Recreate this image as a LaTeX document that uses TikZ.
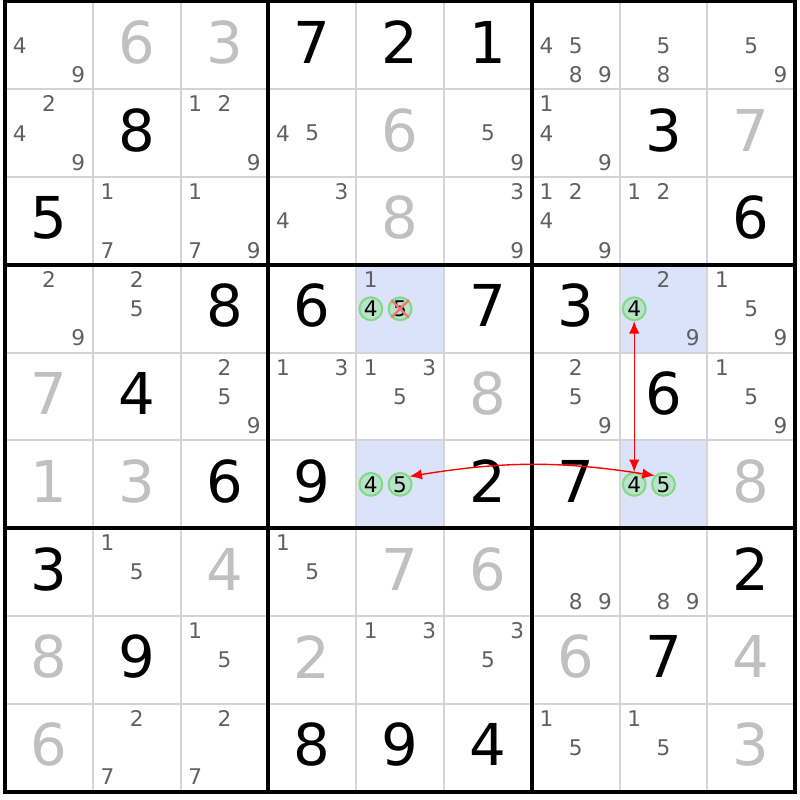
\documentclass[tikz,border=0pt]{standalone}
\usepackage{fontspec}
\setmainfont{DejaVu Sans}
\usetikzlibrary{arrows.meta}

\def\bigdigit{\fontsize{18.7}{20}\selectfont}
\def\smalldigit{\fontsize{7}{8}\selectfont}
\definecolor{solved gray}{RGB}{192,192,192}
\definecolor{cand gray}{RGB}{96,96,96}
\definecolor{grid gray}{RGB}{212,212,212}
\definecolor{cell area}{RGB}{218,227,250}
\definecolor{mark area}{RGB}{184,226,204}
\definecolor{mark edge}{RGB}{128,218,128}
\definecolor{strike red}{RGB}{240,120,120}
\tikzset{
  given/.style={font=\bigdigit, text=black, inner sep=0pt, yshift=0.035cm},
  solved/.style={font=\bigdigit, text=solved gray, inner sep=0pt, yshift=0.035cm},
  cand/.style={font=\smalldigit, text=cand gray, inner sep=0pt},
  marked/.style={circle, draw=mark edge, fill=mark area, line width=0.65pt,
    minimum size=0.26cm, inner sep=0pt, font=\smalldigit, text=black}
  }
\tikzstyle{thin} = [draw=grid gray, line width=0.65pt]
\tikzstyle{thick} = [draw=black, line width=1.3pt]
\tikzstyle{link} = [draw=red, line width=0.45pt,
  {Latex[length=4pt,width=3.4pt]}-{Latex[length=4pt,width=3.4pt]}]
\tikzstyle{strike} = [draw=strike red, line width=0.75pt]

\begin{document}
\begin{tikzpicture}
   \useasboundingbox (-0.057,0.017) rectangle (9.055,-9.094);

   % highlighted cells
   \foreach \r/\c in {4/5,6/5,4/8,6/8}
      \fill[cell area] (\c-1,-\r+1) rectangle (\c,-\r);

   % grid
   \foreach \i in {1,2,4,5,7,8} {
      \path[thin] (\i,0) -- (\i,-9);
      \path[thin] (0,-\i) -- (9,-\i);
   }
   \foreach \i in {3,6} {
      \path[thick] (\i,0) -- (\i,-9);
      \path[thick] (0,-\i) -- (9,-\i);
   }
   \path[thick, line cap=rect] (0,0) rectangle (9,-9);

   % givens
   \foreach \r/\c/\d in {1/4/7, 1/5/2, 1/6/1, 2/2/8, 2/8/3, 3/1/5, 3/9/6,
      4/3/8, 4/4/6, 4/6/7, 4/7/3, 5/2/4, 5/8/6, 6/3/6, 6/4/9, 6/6/2, 6/7/7,
      7/1/3, 7/9/2, 8/2/9, 8/8/7, 9/4/8, 9/5/9, 9/6/4}
      \node[given] (v\r\c) at (\c-0.5,-\r+0.5) {\d};

   % solved cells
   \foreach \r/\c/\d in {1/2/6, 1/3/3, 2/5/6, 2/9/7, 3/5/8, 5/1/7, 5/6/8,
      6/1/1, 6/2/3, 6/9/8, 7/3/4, 7/5/7, 7/6/6, 8/1/8, 8/4/2, 8/7/6, 8/9/4,
      9/1/6, 9/9/3}
      \node[solved] (v\r\c) at (\c-0.5,-\r+0.5) {\d};

   % pencil marks
   \foreach \r/\c/\l in {1/1/{4,9}, 1/7/{4,5,8,9}, 1/8/{5,8}, 1/9/{5,9},
      2/1/{2,4,9}, 2/3/{1,2,9}, 2/4/{4,5}, 2/6/{5,9}, 2/7/{1,4,9},
      3/2/{1,7}, 3/3/{1,7,9}, 3/4/{3,4}, 3/6/{3,9}, 3/7/{1,2,4,9}, 3/8/{1,2},
      4/1/{2,9}, 4/2/{2,5}, 4/5/{1}, 4/8/{2,9}, 4/9/{1,5,9},
      5/3/{2,5,9}, 5/4/{1,3}, 5/5/{1,3,5}, 5/7/{2,5,9}, 5/9/{1,5,9},
      7/2/{1,5}, 7/4/{1,5}, 7/7/{8,9}, 7/8/{8,9},
      8/3/{1,5}, 8/5/{1,3}, 8/6/{3,5},
      9/2/{2,7}, 9/3/{2,7}, 9/7/{1,5}, 9/8/{1,5}}
      \foreach \d in \l {
         \pgfmathsetmacro\kx{\c-1+(mod(\d-1,3)+0.5)/3}
         \pgfmathsetmacro\ky{-(\r-1)-(floor((\d-1)/3)+0.5)/3}
         \node[cand] (k\r\c\d) at (\kx,\ky) {\d};
      }

   % marked candidates
   \node[marked] (m454) at (4.1667,-3.5) {4};
   \node[marked] (m455) at (4.5,-3.5) {5};
   \node[marked] (m484) at (7.1667,-3.5) {4};
   \node[marked] (m654) at (4.1667,-5.5) {4};
   \node[marked] (m655) at (4.5,-5.5) {5};
   \node[marked] (m684) at (7.1667,-5.5) {4};
   \node[marked] (m685) at (7.5,-5.5) {5};

   % eliminated
   \path[strike] (m455.45) -- (m455.225);
   \path[strike] (m455.135) -- (m455.315);

   % links
   \path[link] (m484) -- (m684);
   \path[link] (m655.40) to[bend left=9] (m685.135);
\end{tikzpicture}
\end{document}
